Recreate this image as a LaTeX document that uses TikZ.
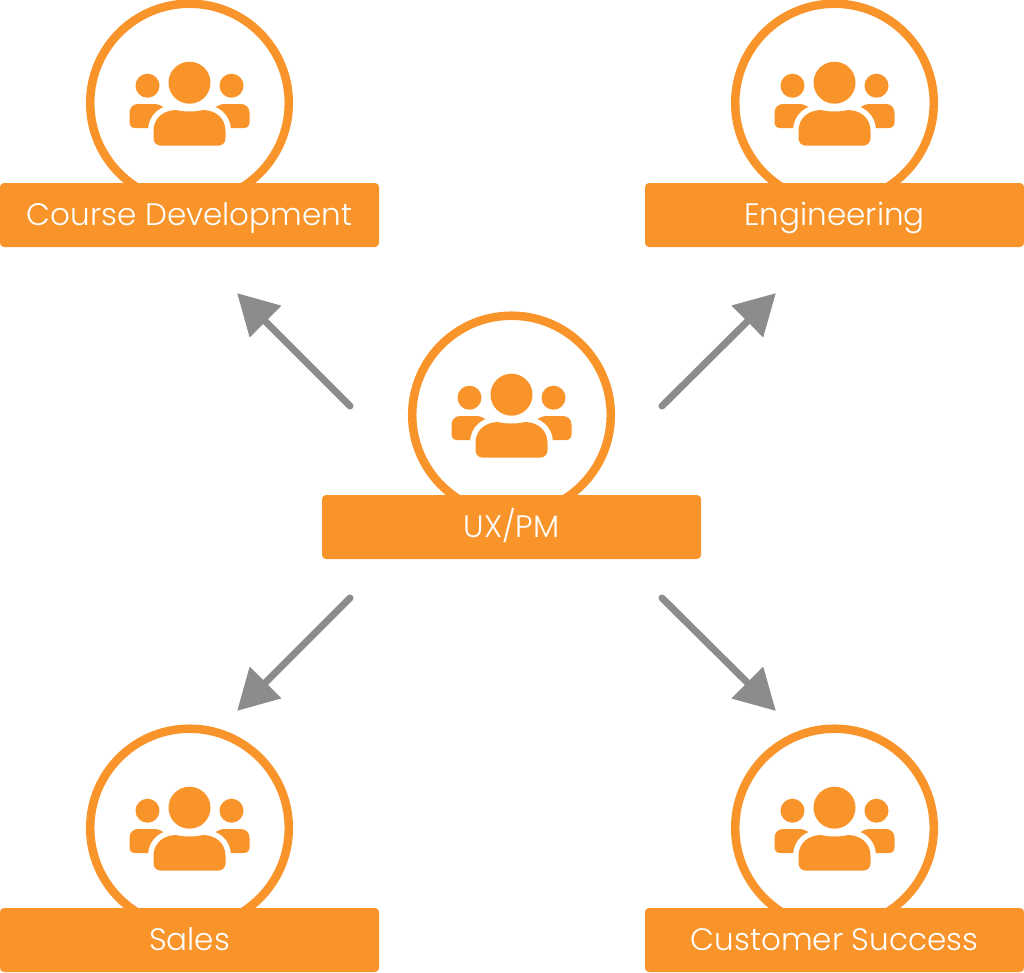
\documentclass[tikz,border=0pt]{standalone}
\usepackage{fontspec}
\setmainfont{Poppins Light}
\usetikzlibrary{arrows.meta}
\definecolor{teamorange}{HTML}{F8942A}
\definecolor{arrowgray}{HTML}{8C8C8C}
\tikzset{
  x=1pt,y=-1pt,
  teamring/.style={circle,draw=teamorange,line width=8.5pt,fill=white,minimum size=198.6pt,inner sep=0pt},
  teamlabel/.style={rectangle,rounded corners=4pt,fill=teamorange,text=white,minimum width=379pt,minimum height=64pt,inner sep=0pt,text height=23pt,text depth=1.6pt,font=\fontsize{31}{34}\selectfont},
  flow/.style={draw=arrowgray,line width=7pt,line cap=round,-{Triangle[length=40pt,width=45pt,line width=0pt]}},
  teamicon/.pic={
    \fill[teamorange] (0,-20.3) circle[radius=21];
    \fill[teamorange] (-42,-17.3) circle[radius=12];
    \fill[teamorange] (42,-17.3) circle[radius=12];
    \fill[teamorange] (-20,25) -- (-54,25) .. controls (-58,25) and (-60,23) .. (-60,19)
      -- (-60,10) .. controls (-60,4) and (-56,1) .. (-51,1)
      -- (-36,1) .. controls (-32,1) and (-29,2) .. (-26,4) -- (-20,10) -- cycle;
    \fill[teamorange] (20,25) -- (54,25) .. controls (58,25) and (60,23) .. (60,19)
      -- (60,10) .. controls (60,4) and (56,1) .. (51,1)
      -- (36,1) .. controls (32,1) and (29,2) .. (26,4) -- (20,10) -- cycle;
    \path[fill=teamorange,draw=white,line width=11pt]
      (-28,42.7) .. controls (-33,42.7) and (-36,39.7) .. (-36,35)
      -- (-36,28) .. controls (-36,15) and (-26,7) .. (-13,7)
      .. controls (-8,9) and (8,9) .. (13,7)
      .. controls (26,7) and (36,15) .. (36,28)
      -- (36,35) .. controls (36,39.7) and (33,42.7) .. (28,42.7) -- cycle;
    \fill[teamorange]
      (-28,42.7) .. controls (-33,42.7) and (-36,39.7) .. (-36,35)
      -- (-36,28) .. controls (-36,15) and (-26,7) .. (-13,7)
      .. controls (-8,9) and (8,9) .. (13,7)
      .. controls (26,7) and (36,15) .. (36,28)
      -- (36,35) .. controls (36,39.7) and (33,42.7) .. (28,42.7) -- cycle;
  }
}
\begin{document}
\begin{tikzpicture}
\useasboundingbox (0,0) rectangle (1024,972);
% rings
\node[teamring] (ringcd) at (189.5,103) {};
\node[teamring] (ringen) at (834.5,103) {};
\node[teamring] (ringux) at (511.5,415) {};
\node[teamring] (ringsa) at (189.5,828) {};
\node[teamring] (ringcs) at (834.5,828) {};
% icons
\pic at (ringcd.center) {teamicon};
\pic at (ringen.center) {teamicon};
\pic at (ringux.center) {teamicon};
\pic at (ringsa.center) {teamicon};
\pic at (ringcs.center) {teamicon};
% labels
\node[teamlabel] (cd) at (189.5,215) {Course Development};
\node[teamlabel] (en) at (834.5,215) {Engineering};
\node[teamlabel] (ux) at (511.5,527) {UX/PM};
\node[teamlabel] (sa) at (189.5,940) {Sales};
\node[teamlabel] (cs) at (834.5,940) {Customer Success};
% connector ends
\coordinate (s1) at (350,406); \coordinate (t1) at (237.3,293.3);
\coordinate (s2) at (662,406); \coordinate (t2) at (775.7,293.3);
\coordinate (s3) at (350,598); \coordinate (t3) at (237.3,710.7);
\coordinate (s4) at (662,598); \coordinate (t4) at (775.7,710.7);
\draw[flow] (s1) -- (t1);
\draw[flow] (s2) -- (t2);
\draw[flow] (s3) -- (t3);
\draw[flow] (s4) -- (t4);
\end{tikzpicture}
\end{document}
